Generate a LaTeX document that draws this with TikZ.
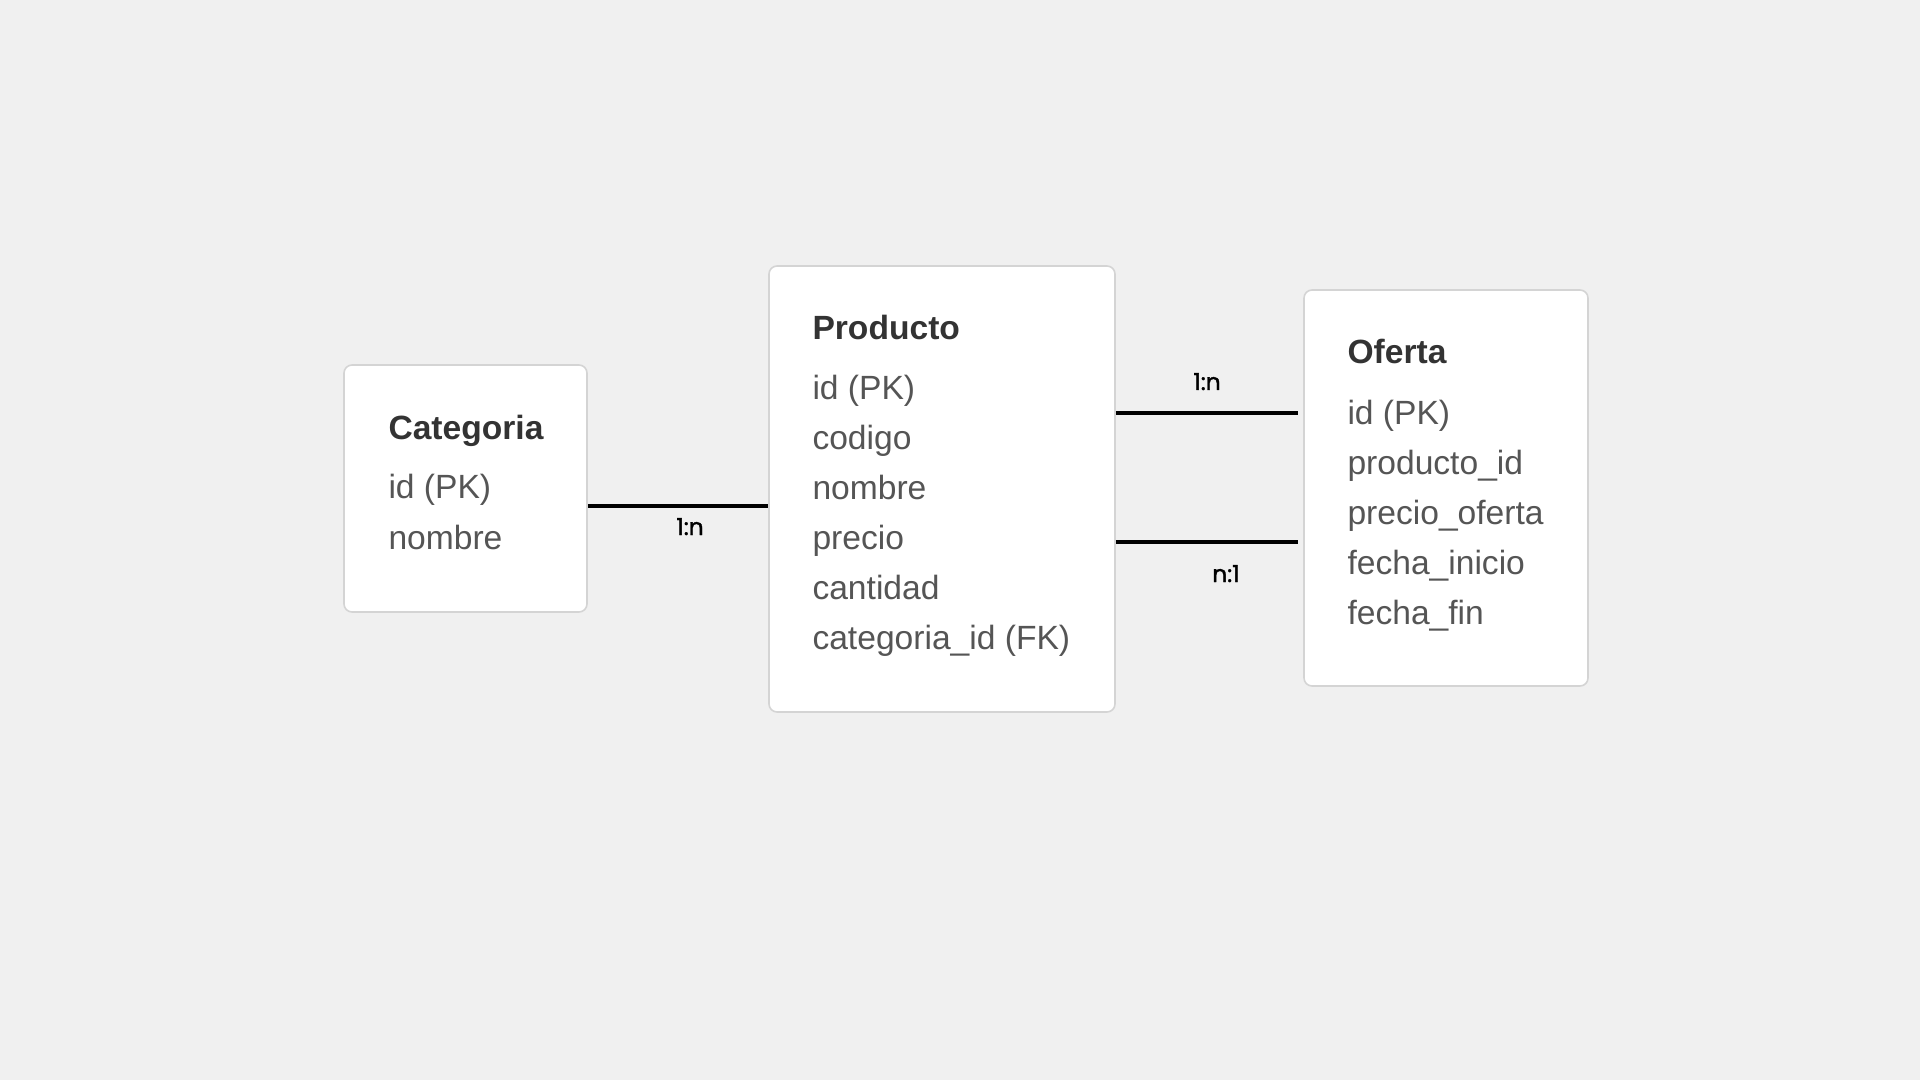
\documentclass[tikz,border=0pt]{standalone}
\usepackage{fontspec}
\setmainfont{Liberation Sans}
\newfontfamily\relfont[FakeBold=1.5]{Poppins}

\definecolor{bgcol}{RGB}{240,240,240}
\definecolor{boxline}{RGB}{212,212,212}
\definecolor{titlecol}{RGB}{51,51,51}
\definecolor{rowcol}{RGB}{85,85,85}

\tikzset{every picture/.style={line width=0.75pt}}
\tikzset{
  entbox/.style={draw=boxline, line width=1.2pt, fill=white, rounded corners=6pt, inner sep=0pt},
  enttitle/.style={anchor=base west, inner sep=0pt, text=titlecol, font=\fontsize{25.2}{30}\selectfont\bfseries},
  entrow/.style={anchor=base west, inner sep=0pt, text=rowcol, font=\fontsize{25.2}{30}\selectfont},
  relline/.style={draw=black, line width=3pt},
  rellabel/.style={anchor=base, inner sep=0pt, text=black, font=\relfont\fontsize{17.5}{21}\selectfont}
}

\begin{document}
\begin{tikzpicture}[x=0.75pt,y=0.75pt,yscale=-1,xscale=1]
%set diagram to 1920 x 1080
\fill[bgcol] (0,0) rectangle (1920,1080);
\useasboundingbox (0,0) rectangle (1920,1080);

%Shape: Rectangle [Categoria]
\node[entbox, minimum width=182.25pt, minimum height=185.25pt] (cat) at (465.5,488.5) {};
%Shape: Rectangle [Producto]
\node[entbox, minimum width=259.5pt, minimum height=334.5pt] (prod) at (942,489) {};
%Shape: Rectangle [Oferta]
\node[entbox, minimum width=213pt, minimum height=297pt] (ofe) at (1446,488) {};

%Straight Lines [Categoria - Producto]
\draw[relline] (cat.east |- 0,506) -- (prod.west |- 0,506);
%Straight Lines [Producto - Oferta]
\draw[relline, shorten >=3.75pt] (prod.east |- 0,413) -- (ofe.west |- 0,413);
%Straight Lines [Oferta - Producto]
\draw[relline, shorten >=3.75pt] (prod.east |- 0,542) -- (ofe.west |- 0,542);

% Text Node
\node[enttitle] (cat-title) at (388,439) {Categoria};
\node[entrow] (cat-id) at (388,498) {id (PK)};
\node[entrow] (cat-nombre) at (388,549) {nombre};

% Text Node
\node[enttitle] (prod-title) at (812,340) {Producto};
\node[entrow] (prod-id) at (812,399) {id (PK)};
\node[entrow] (prod-codigo) at (812,449) {codigo};
\node[entrow] (prod-nombre) at (812,499) {nombre};
\node[entrow] (prod-precio) at (812,549) {precio};
\node[entrow] (prod-cantidad) at (812,599) {cantidad};
\node[entrow] (prod-catid) at (812,649) {categoria\_id (FK)};

% Text Node
\node[enttitle] (ofe-title) at (1347,364) {Oferta};
\node[entrow] (ofe-id) at (1347,424) {id (PK)};
\node[entrow] (ofe-prodid) at (1347,474) {producto\_id};
\node[entrow] (ofe-precio) at (1347,524) {precio\_oferta};
\node[entrow] (ofe-inicio) at (1347,574) {fecha\_inicio};
\node[entrow] (ofe-fin) at (1347,624) {fecha\_fin};

% Text Node
\node[rellabel] (lab-catprod) at (690,535) {1:n};
\node[rellabel] (lab-prodofe) at (1207,390) {1:n};
\node[rellabel] (lab-ofeprod) at (1226,582) {n:1};

\end{tikzpicture}
\end{document}
